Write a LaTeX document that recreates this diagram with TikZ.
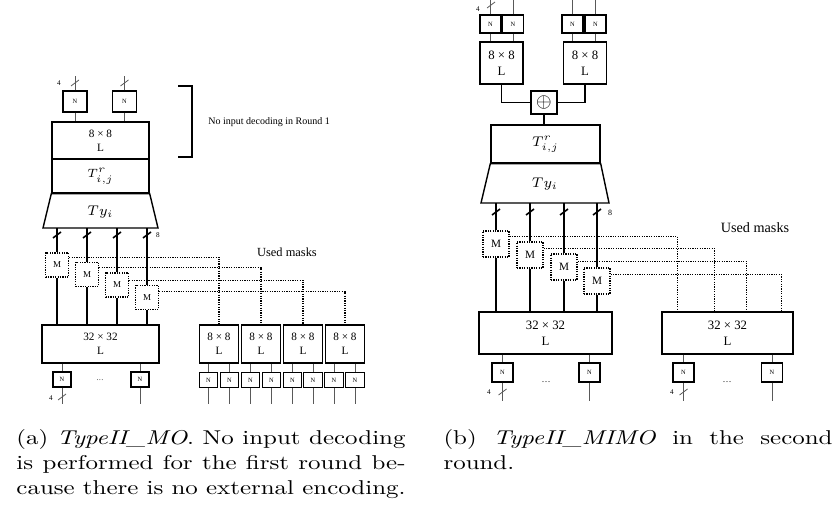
\documentclass[tikz,border=0pt]{standalone}
\usepackage{fontspec}
\newfontfamily\figfont{Liberation Serif}
\usepackage{tikz}
\usetikzlibrary{positioning, calc}

\begin{document}
\begin{tikzpicture}[x=0.5pt, y=-0.5pt,
    lbox/.style={draw, line width=0.7pt, inner sep=0pt, align=center},
    nbox/.style={draw, line width=0.6pt, inner sep=0pt, font=\figfont\fontsize{3.2}{3.2}\selectfont},
    mbox/.style={draw, dash pattern=on 0.6pt off 0.6pt, line width=0.6pt, inner sep=0pt},
    sig/.style={line width=0.8pt},
    wire/.style={line width=0.4pt, black!65},
    mask/.style={dash pattern=on 0.6pt off 0.6pt, line width=0.6pt},
    small/.style={inner sep=0pt, font=\figfont\fontsize{3.6}{4}\selectfont},
    lfont/.style={font=\figfont\fontsize{5.6}{6.8}\selectfont},
    rfont/.style={font=\figfont\fontsize{6.4}{7.8}\selectfont},
    caption/.style={anchor=north west, xscale=1.247, transform shape, text width=156pt,
      align=justify, inner sep=0pt, font=\fontsize{10}{12.5}\selectfont}]
  \useasboundingbox (0,0) rectangle (833,512);

  % (a) first round
  \node[nbox, minimum width=12pt, minimum height=10.5pt] (na1) at (75,101.5) {N};
  \node[nbox, minimum width=12pt, minimum height=10.5pt] (na2) at (124.5,101.5) {N};
  \node[lbox, lfont, minimum width=48.5pt, minimum height=18.5pt] (la) at (100.5,140.5) {8 × 8\\L};
  \node[lbox, font=\fontsize{6.2}{7}\selectfont, minimum width=48.5pt, minimum height=17pt] (ta) at (100.5,176) {$T^r_{i,j}$};
  \coordinate (tyb) at (43,228);
  \draw[line width=0.7pt] (ta.south west) -- (ta.south east) -- (158,228) -- (tyb) -- cycle;
  \node[font=\fontsize{7.2}{8}\selectfont] (tya) at (100.5,212) {$Ty_i$};

  \draw[wire] (na1.north) -- ++(0,-14);
  \draw[wire] (na2.north) -- ++(0,-14);
  \draw[wire] (na1) -- (na1 |- la.north);
  \draw[wire] (na2) -- (na2 |- la.north);
  \draw[wire] (71,86) -- (79,80);
  \draw[wire] (120.5,86) -- (128.5,80);
  \node[small] (fa) at (59,83) {4};

  % bracket
  \draw[line width=0.6pt] (178,86) -- (192,86) -- (192,157) -- (178,157);
  \node[anchor=west, inner sep=0pt, font=\figfont\fontsize{5}{6}\selectfont] (note) at (208,122) {No input decoding in Round 1};

  % masks
  \node[mbox, font=\figfont\fontsize{4.5}{5}\selectfont, minimum width=11.5pt, minimum height=12pt] (m1) at (57,265) {M};
  \node[mbox, font=\figfont\fontsize{4.5}{5}\selectfont, minimum width=11.5pt, minimum height=12pt] (m2) at (87,274.5) {M};
  \node[mbox, font=\figfont\fontsize{4.5}{5}\selectfont, minimum width=11.5pt, minimum height=12pt] (m3) at (117,285) {M};
  \node[mbox, font=\figfont\fontsize{4.5}{5}\selectfont, minimum width=11.5pt, minimum height=12pt] (m4) at (147,297.5) {M};
  \node[font=\figfont\fontsize{6.2}{7}\selectfont] (ua) at (287,252) {Used masks};

  \node[lbox, lfont, minimum width=58.5pt, minimum height=19pt] (l32) at (100.5,344) {32 × 32\\L};
  \node[lbox, lfont, minimum width=19.5pt, minimum height=19pt] (s1) at (219,344) {8 × 8\\L};
  \node[lbox, lfont, minimum width=19.5pt, minimum height=19pt] (s2) at (261,344) {8 × 8\\L};
  \node[lbox, lfont, minimum width=19.5pt, minimum height=19pt] (s3) at (303,344) {8 × 8\\L};
  \node[lbox, lfont, minimum width=19.5pt, minimum height=19pt] (s4) at (345,344) {8 × 8\\L};

  \draw[sig] (m1 |- tyb) -- (m1);
  \draw[sig] (m2 |- tyb) -- (m2);
  \draw[sig] (m3 |- tyb) -- (m3);
  \draw[sig] (m4 |- tyb) -- (m4);
  \draw[sig] (m1) -- (m1 |- l32.north);
  \draw[sig] (m2) -- (m2 |- l32.north);
  \draw[sig] (m3) -- (m3 |- l32.north);
  \draw[sig] (m4) -- (m4 |- l32.north);
  \draw[sig] (53,238) -- (61,232);
  \draw[sig] (83,238) -- (91,232);
  \draw[sig] (113,238) -- (121,232);
  \draw[sig] (143,238) -- (151,232);
  \node[small] (ea) at (158,235) {8};

  \draw[mask] ($(m1.north east)+(0,5)$) -| (s1.north);
  \draw[mask] ($(m2.north east)+(0,6)$) -| (s2.north);
  \draw[mask] ($(m3.north east)+(0,8)$) -| (s3.north);
  \draw[mask] ($(m4.north east)+(0,7)$) -| (s4.north);

  % outputs
  \node[nbox, minimum width=9pt, minimum height=7.5pt] (p1) at (62,379.5) {N};
  \node[nbox, minimum width=9pt, minimum height=7.5pt] (p2) at (140,379.5) {N};
  \node[small] (da) at (100,380) {\dots};
  \draw[wire] (p1 |- l32.south) -- (p1);
  \draw[wire] (p2 |- l32.south) -- (p2);
  \draw[wire] (p1.south) -- ++(0,16);
  \draw[wire] (p2.south) -- ++(0,16);
  \draw[wire] (58,400) -- (66,394);
  \node[small] (ga) at (51,398) {4};

  \node[nbox, minimum width=9.2pt, minimum height=7.3pt] (q1) at (208.5,380) {N};
  \node[nbox, minimum width=9.2pt, minimum height=7.3pt] (q2) at (229.5,380) {N};
  \node[nbox, minimum width=9.2pt, minimum height=7.3pt] (q3) at (250.5,380) {N};
  \node[nbox, minimum width=9.2pt, minimum height=7.3pt] (q4) at (271.5,380) {N};
  \node[nbox, minimum width=9.2pt, minimum height=7.3pt] (q5) at (292.5,380) {N};
  \node[nbox, minimum width=9.2pt, minimum height=7.3pt] (q6) at (313,380) {N};
  \node[nbox, minimum width=9.2pt, minimum height=7.3pt] (q7) at (334,380) {N};
  \node[nbox, minimum width=9.2pt, minimum height=7.3pt] (q8) at (355,380) {N};
  \draw[wire] (q1 |- s1.south) -- (q1);  \draw[wire] (q1.south) -- ++(0,16);
  \draw[wire] (q2 |- s1.south) -- (q2);  \draw[wire] (q2.south) -- ++(0,16);
  \draw[wire] (q3 |- s2.south) -- (q3);  \draw[wire] (q3.south) -- ++(0,16);
  \draw[wire] (q4 |- s2.south) -- (q4);  \draw[wire] (q4.south) -- ++(0,16);
  \draw[wire] (q5 |- s3.south) -- (q5);  \draw[wire] (q5.south) -- ++(0,16);
  \draw[wire] (q6 |- s3.south) -- (q6);  \draw[wire] (q6.south) -- ++(0,16);
  \draw[wire] (q7 |- s4.south) -- (q7);  \draw[wire] (q7.south) -- ++(0,16);
  \draw[wire] (q8 |- s4.south) -- (q8);  \draw[wire] (q8.south) -- ++(0,16);

  % (b) second round
  \node[nbox, minimum width=10.5pt, minimum height=9pt] (rn1) at (490.5,24) {N};
  \node[nbox, minimum width=10.5pt, minimum height=9pt] (rn2) at (513,24) {N};
  \node[nbox, minimum width=10.5pt, minimum height=9pt] (rn3) at (572.5,24) {N};
  \node[nbox, minimum width=10.5pt, minimum height=9pt] (rn4) at (595.5,24) {N};
  \node[lbox, rfont, minimum width=21.5pt, minimum height=21pt] (rb1) at (501.5,63) {8 × 8\\L};
  \node[lbox, rfont, minimum width=21.5pt, minimum height=21pt] (rb2) at (585,63) {8 × 8\\L};
  \draw[wire] (rn1.north) -- ++(0,-15);
  \draw[wire] (rn2.north) -- ++(0,-15);
  \draw[wire] (rn3.north) -- ++(0,-15);
  \draw[wire] (rn4.north) -- ++(0,-15);
  \draw[wire] (rn1) -- (rn1 |- rb1.north);
  \draw[wire] (rn2) -- (rn2 |- rb1.north);
  \draw[wire] (rn3) -- (rn3 |- rb2.north);
  \draw[wire] (rn4) -- (rn4 |- rb2.north);
  \draw[wire] (487,8) -- (495,2);
  \node[small] (fb) at (478,9) {4};

  \node[lbox, minimum width=13pt, minimum height=11.5pt, font=\fontsize{10}{10}\selectfont] (xr) at (544,102.5) {$\oplus$};
  \node[lbox, font=\fontsize{6.8}{7.5}\selectfont, minimum width=54.5pt, minimum height=19pt] (rt) at (545.5,144) {$T^r_{i,j}$};
  \draw[sig] (rb1.south) |- (xr.west);
  \draw[sig] (rb2.south) |- (xr.east);
  \draw[sig] (xr) -- (xr |- rt.north);
  \coordinate (rtyb) at (481,203);
  \draw[line width=0.7pt] (rt.south west) -- (rt.south east) -- (609,203) -- (rtyb) -- cycle;
  \node[font=\fontsize{7.2}{8}\selectfont] (tyr) at (545,184) {$Ty_i$};

  \node[mbox, font=\figfont\fontsize{5.6}{6}\selectfont, minimum width=13pt, minimum height=13pt] (rm1) at (496,244) {M};
  \node[mbox, font=\figfont\fontsize{5.6}{6}\selectfont, minimum width=13pt, minimum height=13pt] (rm2) at (530,255) {M};
  \node[mbox, font=\figfont\fontsize{5.6}{6}\selectfont, minimum width=13pt, minimum height=13pt] (rm3) at (564,267) {M};
  \node[mbox, font=\figfont\fontsize{5.6}{6}\selectfont, minimum width=13pt, minimum height=13pt] (rm4) at (597,281) {M};
  \node[font=\figfont\fontsize{7.1}{8}\selectfont] (ub) at (755,228) {Used masks};

  \node[lbox, rfont, minimum width=66.5pt, minimum height=21pt] (rl1) at (545.5,333) {32 × 32\\L};
  \node[lbox, rfont, minimum width=65.5pt, minimum height=21pt] (rl2) at (727.5,333) {32 × 32\\L};

  \draw[sig] (rm1 |- rtyb) -- (rm1);
  \draw[sig] (rm2 |- rtyb) -- (rm2);
  \draw[sig] (rm3 |- rtyb) -- (rm3);
  \draw[sig] (rm4 |- rtyb) -- (rm4);
  \draw[sig] (rm1) -- (rm1 |- rl1.north);
  \draw[sig] (rm2) -- (rm2 |- rl1.north);
  \draw[sig] (rm3) -- (rm3 |- rl1.north);
  \draw[sig] (rm4) -- (rm4 |- rl1.north);
  \draw[sig] (492,215) -- (500,209);
  \draw[sig] (526,215) -- (534,209);
  \draw[sig] (560,215) -- (568,209);
  \draw[sig] (593,215) -- (601,209);
  \node[small, font=\figfont\fontsize{4}{4}\selectfont] (eb) at (610,213) {8};

  \draw[mask] ($(rm1.north east)+(0,6)$) -| ($(rl2.north west)+(16,0)$);
  \draw[mask] ($(rm2.north east)+(0,7)$) -| ($(rl2.north west)+(53,0)$);
  \draw[mask] ($(rm3.north east)+(0,8)$) -| ($(rl2.north west)+(85,0)$);
  \draw[mask] ($(rm4.north east)+(0,7)$) -| ($(rl2.north west)+(120,0)$);

  \node[nbox, minimum width=10.5pt, minimum height=9.5pt] (rq1) at (502.5,372.5) {N};
  \node[nbox, minimum width=10.5pt, minimum height=9.5pt] (rq2) at (589.5,372.5) {N};
  \node[nbox, minimum width=10.5pt, minimum height=9.5pt] (rq3) at (683.5,372.5) {N};
  \node[nbox, minimum width=10.5pt, minimum height=9.5pt] (rq4) at (772,372.5) {N};
  \draw[wire] (rq1 |- rl1.south) -- (rq1);  \draw[wire] (rq1.south) -- ++(0,18);
  \draw[wire] (rq2 |- rl1.south) -- (rq2);  \draw[wire] (rq2.south) -- ++(0,18);
  \draw[wire] (rq3 |- rl2.south) -- (rq3);  \draw[wire] (rq3.south) -- ++(0,18);
  \draw[wire] (rq4 |- rl2.south) -- (rq4);  \draw[wire] (rq4.south) -- ++(0,18);
  \node[small, font=\figfont\fontsize{4.5}{5}\selectfont] (db1) at (546,382) {\dots};
  \node[small, font=\figfont\fontsize{4.5}{5}\selectfont] (db2) at (727,382) {\dots};
  \draw[wire] (498.5,395) -- (506.5,389);
  \draw[wire] (679.5,395) -- (687.5,389);
  \node[small] (gb1) at (489,392) {4};
  \node[small] (gb2) at (672,392) {4};

  % captions
  \node[caption] (capa) at (16,429)
    {(a) \textit{TypeII\_MO}. No input decoding\linebreak is performed for the first round be-\linebreak cause there is no external encoding.};
  \node[caption] (capb) at (443,429)
    {(b) \textit{TypeII\_MIMO} in the second\linebreak round.};
\end{tikzpicture}
\end{document}
